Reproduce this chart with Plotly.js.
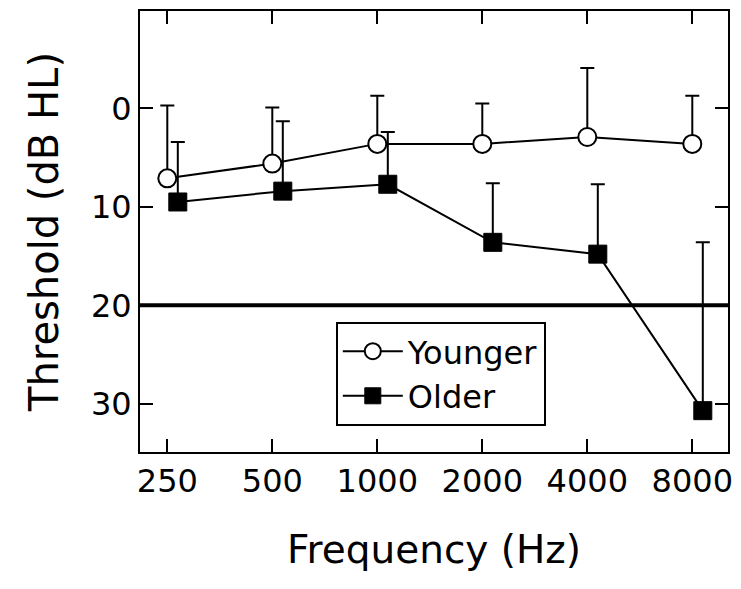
<!DOCTYPE html>
<html>
<head>
<meta charset="utf-8">
<script src="https://cdn.plot.ly/plotly-3.0.1.min.js"></script>
<style>html,body{margin:0;padding:0;background:#fff;}#chart{width:741px;height:589px;}</style>
</head>
<body>
<div id="chart"></div>
<script>
// Data
var frequencies = [250, 500, 1000, 2000, 4000, 8000];
var tickLabels = ['250', '500', '1000', '2000', '4000', '8000'];
var youngerMean = [7.1, 5.6, 3.6, 3.6, 2.9, 3.6];
var youngerErr  = [7.4, 5.7, 4.9, 4.1, 7.0, 4.9];
var olderMean   = [9.5, 8.4, 7.7, 13.6, 14.8, 30.7];
var olderErr    = [6.1, 7.1, 5.3, 6.0, 7.1, 17.1];
var referenceLevel = 20;
var olderOffset = 0.1; // octave offset of the Older series

var octave = frequencies.map(function(f){ return Math.log2(f / 250); });
var octaveOlder = octave.map(function(v){ return v + olderOffset; });
var zeros = frequencies.map(function(){ return 0; });

var font = 'DejaVu Sans, Verdana, sans-serif';

var traces = [
  {
    x: octave, y: youngerMean, name: 'Younger', type: 'scatter', mode: 'lines+markers',
    line: {color: '#000', width: 2},
    marker: {symbol: 'circle', size: 18, color: '#fff', line: {color: '#000', width: 2}},
    error_y: {type: 'data', symmetric: false, array: zeros, arrayminus: youngerErr,
              color: '#000', thickness: 2, width: 7}
  },
  {
    x: octaveOlder, y: olderMean, name: 'Older', type: 'scatter', mode: 'lines+markers',
    line: {color: '#000', width: 2},
    marker: {symbol: 'square', size: 18, color: '#000', line: {color: '#000', width: 1}},
    error_y: {type: 'data', symmetric: false, array: zeros, arrayminus: olderErr,
              color: '#000', thickness: 2, width: 7}
  }
];

var layout = {
  width: 741, height: 589,
  margin: {l: 140, r: 13, t: 11, b: 137},
  paper_bgcolor: '#fff', plot_bgcolor: '#fff',
  font: {family: font, color: '#000'},
  showlegend: true,
  legend: {
    x: 0.333, y: 0.295, xanchor: 'left', yanchor: 'top',
    bordercolor: '#000', borderwidth: 2, bgcolor: '#fff',
    font: {family: font, size: 32, color: '#000'},
    itemwidth: 60, tracegroupgap: 0
  },
  xaxis: {
    range: [-0.26, 5.34],
    tickmode: 'array', tickvals: octave, ticktext: tickLabels,
    ticks: 'inside', ticklen: 13, tickwidth: 2, tickcolor: '#000',
    showline: true, linecolor: '#000', linewidth: 2, mirror: 'ticks',
    showgrid: false, zeroline: false,
    tickfont: {family: font, size: 32, color: '#000'},
    title: {text: 'Frequency (Hz)', font: {family: font, size: 39, color: '#000'}, standoff: 36}
  },
  yaxis: {
    range: [34.9, -9.9],
    tickmode: 'array', tickvals: [0, 10, 20, 30],
    ticks: 'inside', ticklen: 13, tickwidth: 2, tickcolor: '#000',
    showline: true, linecolor: '#000', linewidth: 2, mirror: 'ticks',
    showgrid: false, zeroline: false,
    tickfont: {family: font, size: 32, color: '#000'},
    title: {text: 'Threshold (dB HL)', font: {family: font, size: 40, color: '#000'}, standoff: 20}
  },
  shapes: [{
    type: 'line', xref: 'paper', yref: 'y', x0: 0, x1: 1, y0: referenceLevel, y1: referenceLevel,
    line: {color: '#000', width: 4}, layer: 'below'
  }]
};

Plotly.newPlot('chart', traces, layout, {displayModeBar: false, staticPlot: true});
</script>
</body>
</html>
